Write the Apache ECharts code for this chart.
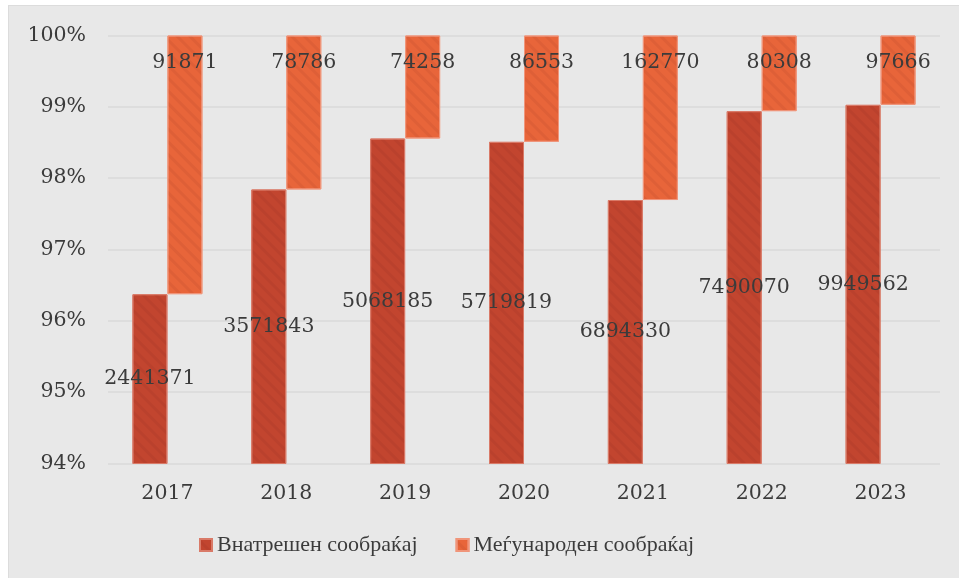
<!DOCTYPE html>
<html>
<head>
<meta charset="utf-8">
<script src="https://cdn.jsdelivr.net/npm/echarts@6/dist/echarts.min.js"></script>
<style>
  html, body { margin: 0; padding: 0; background: #ffffff; }
  #chart {
    position: absolute; left: 8px; top: 5px;
    width: 951px; height: 573px;
    background: #e8e8e8;
    border-left: 1px solid #dcdcdc; border-top: 1px solid #dcdcdc;
    box-sizing: border-box;
  }
</style>
</head>
<body>
<div id="chart"></div>
<script>
"use strict"

const years = ["2017", "2018", "2019", "2020", "2021", "2022", "2023"]
const domestic = [2441371, 3571843, 5068185, 5719819, 6894330, 7490070, 9949562]
const international = [91871, 78786, 74258, 86553, 162770, 80308, 97666]
const seriesNames = ["Внатрешен сообраќај", "Меѓународен сообраќај"]

// shares in percent, used for the 100% stacked layout
const domPct = domestic.map((d, i) => (d / (d + international[i])) * 100)
const intPct = international.map((v, i) => (v / (v + domestic[i])) * 100)

const serif = "DejaVu Serif"
const textColor = "#3b3b3b"

const hatch = {
  symbol: "rect",
  symbolSize: 1,
  dashArrayX: [1, 0],
  dashArrayY: [3, 6],
  rotation: Math.PI / 4,
  color: "rgba(90, 20, 10, 0.07)",
}

const myChart = echarts.init(document.getElementById("chart"), null, { renderer: "canvas" })

myChart.setOption({
  animation: false,
  grid: { left: 99, right: 19, top: 29.5, bottom: 114.5 },
  xAxis: {
    type: "category",
    data: years,
    axisLine: { show: false },
    axisTick: { show: false },
    axisLabel: { color: textColor, fontFamily: serif, fontSize: 20.5, margin: 20 },
  },
  yAxis: {
    type: "value",
    min: 94,
    max: 100,
    interval: 1,
    axisLabel: {
      color: textColor, fontFamily: serif, fontSize: 20.5, margin: 22,
      formatter: (v) => v + "%",
    },
    splitLine: { lineStyle: { color: "#dadada", width: 1.5 } },
  },
  legend: {
    data: seriesNames,
    left: 185,
    top: 523,
    itemWidth: 12,
    itemHeight: 12,
    itemGap: 38,
    icon: "rect",
    textStyle: { color: textColor, fontFamily: "Liberation Serif", fontSize: 22 },
  },
  series: [
    {
      name: seriesNames[0],
      type: "bar",
      barWidth: 35,
      barGap: "0%",
      data: domPct,
      itemStyle: { color: "#c2452f", borderColor: "#d97a68", borderWidth: 1, decal: hatch },
      label: {
        show: true,
        position: "inside",
        color: textColor, fontFamily: serif, fontSize: 20.5,
        formatter: (p) => String(domestic[p.dataIndex]),
      },
    },
    {
      name: "base",
      type: "bar",
      stack: "intl",
      barWidth: 35,
      data: domPct,
      itemStyle: { color: "transparent" },
      silent: true,
    },
    {
      name: seriesNames[1],
      type: "bar",
      stack: "intl",
      barWidth: 35,
      data: intPct,
      itemStyle: { color: "#e8653a", borderColor: "#f0957a", borderWidth: 1, decal: hatch },
      label: {
        show: true,
        position: "insideTop",
        distance: 17,
        color: textColor, fontFamily: serif, fontSize: 20.5,
        formatter: (p) => String(international[p.dataIndex]),
      },
    },
  ],
})
</script>
</body>
</html>
